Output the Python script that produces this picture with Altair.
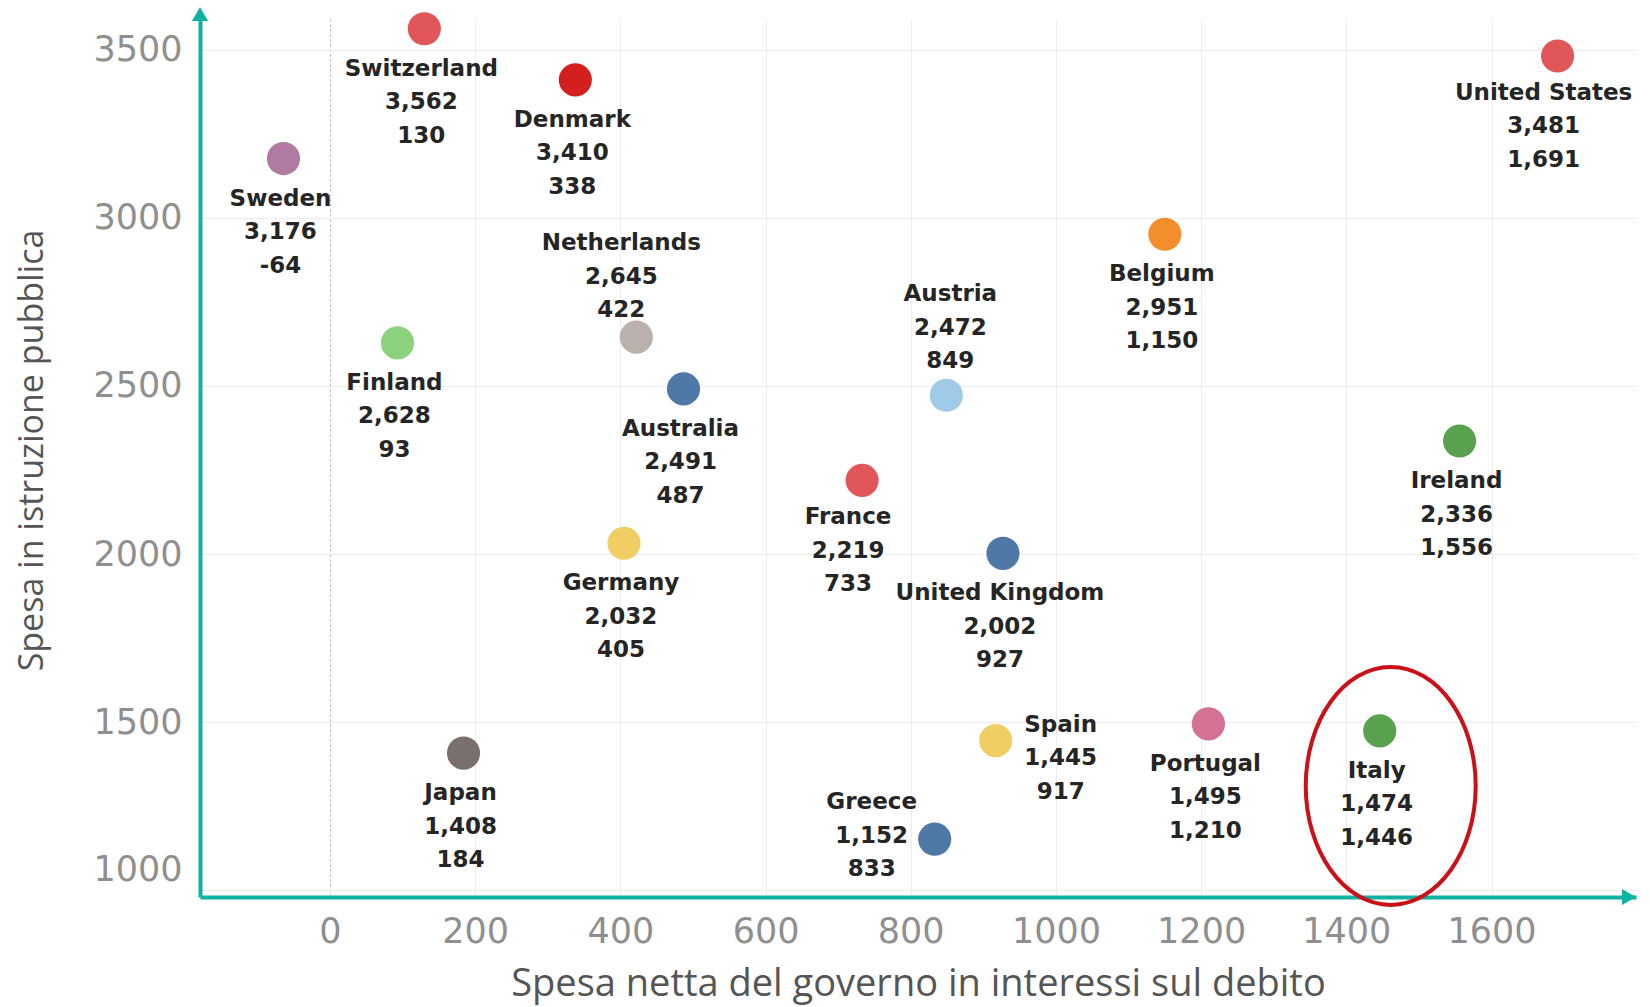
import altair as alt
import pandas as pd

# ---- data ----
countries = ["Switzerland", "Denmark", "Sweden", "Netherlands", "Finland", "Australia",
             "Austria", "Belgium", "United States", "France", "Germany", "United Kingdom",
             "Ireland", "Japan", "Spain", "Greece", "Portugal", "Italy"]
education = [3562, 3410, 3176, 2645, 2628, 2491, 2472, 2951, 3481, 2219, 2032, 2002,
             2336, 1408, 1445, 1152, 1495, 1474]
interest = [130, 338, -64, 422, 93, 487, 849, 1150, 1691, 733, 405, 927,
            1556, 184, 917, 833, 1210, 1446]
palette = ["#E15759", "#D3201F", "#B07AA1", "#BAB0AC", "#8CD17D", "#4E79A7",
           "#A0CBE8", "#F28E2B", "#E15759", "#E15759", "#F1CE63", "#4E79A7",
           "#59A14F", "#79706E", "#F1CE63", "#4E79A7", "#D37295", "#59A14F"]
x_ticks = [0, 200, 400, 600, 800, 1000, 1200, 1400, 1600]
y_ticks = [1000, 1500, 2000, 2500, 3000, 3500]

df = pd.DataFrame({"country": countries, "edu": education, "int": interest})
df["label"] = [f"{c}\n{e:,}\n{i:,}" for c, e, i in zip(countries, education, interest)]

TEAL = "#0DB3A0"
W, H = 1436, 878

x_enc = alt.X("int:Q",
              scale=alt.Scale(domain=[-179, 1799], nice=False, zero=False),
              axis=alt.Axis(values=x_ticks, format="d",
                            title="Spesa netta del governo in interessi sul debito",
                            ticks=False, tickSize=0, labelPadding=17,
                            labelFont="DejaVu Sans", labelFontSize=35, labelColor="#8f8f8f",
                            titleFont="Open Sans", titleFontSize=38, titleColor="#555555",
                            titleFontWeight="normal", titleY=87, titleBaseline="middle",
                            domainColor=TEAL, domainWidth=4,
                            grid=True,
                            gridColor={"condition": {"test": "datum.value === 0", "value": "#a8a8a8"},
                                       "value": "#ececec"},
                            gridDash={"condition": {"test": "datum.value === 0", "value": [2, 3]},
                                      "value": []}))
y_enc = alt.Y("edu:Q",
              scale=alt.Scale(domain=[980, 3591], nice=False, zero=False),
              axis=alt.Axis(values=y_ticks, format="d", title="Spesa in istruzione pubblica",
                            ticks=False, tickSize=0, labelPadding=18,
                            labelFont="DejaVu Sans", labelFontSize=35, labelColor="#8f8f8f",
                            labelOffset={"condition": {"test": "datum.value === 1000", "value": -21},
                                         "value": 0},
                            titleFont="Open Sans", titleFontSize=34, titleColor="#555555",
                            titleFontWeight="normal", titleX=-168, titleY=431,
                            titleAlign="center", titleBaseline="middle", titleAngle=-90,
                            domainColor=TEAL, domainWidth=4,
                            grid=True, gridColor="#ececec"))

base = alt.Chart(df)

points = base.mark_circle(size=1100, opacity=1).encode(
    x=x_enc, y=y_enc,
    color=alt.Color("country:N", scale=alt.Scale(domain=countries, range=palette), legend=None),
)

# (countries, dx, dy of first label line relative to the point)
placements = [
    (["Switzerland", "Denmark", "Sweden", "Finland", "Australia", "Germany", "United Kingdom",
      "Belgium", "Ireland", "Japan", "Portugal", "Italy"], -3, 40),
    (["France", "United States"], -14, 37),
    (["Netherlands"], -15, -94),
    (["Austria"], 4, -101),
    (["Spain"], 65, -16),
    (["Greece"], -63, -37),
]
text_layers = []
for group, dx, dy in placements:
    text_layers.append(
        base.transform_filter(alt.FieldOneOfPredicate(field="country", oneOf=group))
        .mark_text(dx=dx, dy=dy, align="center", baseline="middle", lineBreak="\n",
                   lineHeight=33.5, font="DejaVu Sans", fontSize=23, fontWeight="bold",
                   color="#252525")
        .encode(x="int:Q", y="edu:Q", text="label:N")
    )

ellipse_path = "M -0.714 0 A 0.714 1 0 1 0 0.714 0 A 0.714 1 0 1 0 -0.714 0 Z"
ellipse = base.transform_filter(alt.datum.country == "Italy").mark_point(
    shape=ellipse_path, size=238 * 238, filled=False, color="#CC1018",
    strokeWidth=4, opacity=1, xOffset=11, yOffset=55,
).encode(x="int:Q", y="edu:Q")

arrow_df = pd.DataFrame({"k": [0]})
arrow_up = alt.Chart(arrow_df).mark_point(shape="triangle-up", filled=True, size=260,
                                          color=TEAL, opacity=1).encode(
    x=alt.value(0), y=alt.value(-5))
arrow_right = alt.Chart(arrow_df).mark_point(shape="triangle-right", filled=True, size=260,
                                             color=TEAL, opacity=1).encode(
    x=alt.value(W - 7), y=alt.value(H))

chart = alt.layer(points, *text_layers, ellipse, arrow_up, arrow_right).properties(
    width=W, height=H,
    autosize=alt.AutoSizeParams(type="none"),
    padding={"left": 200, "top": 19, "right": 14, "bottom": 110},
    background="white",
).configure_view(stroke=None)

chart.save("out.html", embed_options={"renderer": "svg", "actions": False})
